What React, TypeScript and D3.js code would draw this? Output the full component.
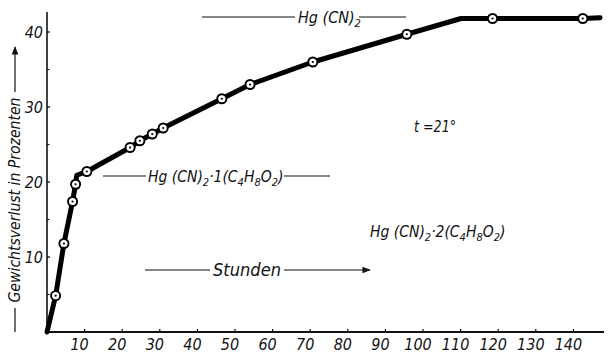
import React from "react";
import * as d3 from "d3";

const hours = [0, 2.3, 4.5, 6.8, 7.6, 7.9, 10.6, 22.1, 24.7, 28.0, 30.9, 46.5, 54.0, 70.7, 95.7, 110.1, 118.5, 142.5, 147.1];
const loss = [0, 4.84, 11.8, 17.4, 19.7, 20.9, 21.4, 24.6, 25.5, 26.4, 27.2, 31.1, 33.0, 36.0, 39.7, 41.8, 41.8, 41.8, 41.9];
const marked = [false, true, true, true, true, false, true, true, true, true, true, true, true, true, true, false, true, true, false];
const xTicks = [10, 20, 30, 40, 50, 60, 70, 80, 90, 100, 110, 120, 130, 140];
const yTicks = [10, 20, 30, 40];
const yMinor = [5, 15, 25, 35];

const W = 608;
const H = 354;
const FONT = "'Liberation Sans Narrow', 'DejaVu Sans Condensed', 'Liberation Sans', sans-serif";

export default function App() {
  const x = d3.scaleLinear().domain([0, 150]).range([47, 47 + 150 * 3.76]);
  const y = d3.scaleLinear().domain([0, 40]).range([332, 32]);
  const pts = hours.map((h, i) => ({ h, v: loss[i], m: marked[i] }));
  const line = d3
    .line<{ h: number; v: number }>()
    .x((d) => x(d.h))
    .y((d) => y(d.v));

  const txt = {
    fontFamily: FONT,
    fontStyle: "italic" as const,
    fill: "#111",
  };

  return (
    <svg
      width={W}
      height={H}
      viewBox={`0 0 ${W} ${H}`}
      style={{ position: "absolute", left: 0, top: 0, background: "#fff" }}
    >
      <defs>
        <marker id="ah" viewBox="0 0 10 10" refX="9" refY="5" markerWidth="7" markerHeight="7" orient="auto">
          <path d="M0,1 L10,5 L0,9 Z" fill="#111" />
        </marker>
      </defs>
      {/* axes */}
      <line x1={x(0)} y1={y(0)} x2={x(0)} y2={12} stroke="#111" strokeWidth={1.6} />
      <line x1={x(0)} y1={y(0)} x2={604} y2={y(0)} stroke="#111" strokeWidth={1.8} />
      {yTicks.map((t) => (
        <g key={"y" + t}>
          <line x1={x(0)} x2={x(0) + 3} y1={y(t)} y2={y(t)} stroke="#111" strokeWidth={1.3} />
          <text x={43} y={y(t) + 6} textAnchor="end" fontSize={16} {...txt}>
            {t}
          </text>
        </g>
      ))}
      {yMinor.map((t) => (
        <line key={"ym" + t} x1={x(0)} x2={x(0) + 2.5} y1={y(t)} y2={y(t)} stroke="#111" strokeWidth={1.1} />
      ))}
      {xTicks.map((t) => (
        <g key={"x" + t}>
          <line x1={x(t)} x2={x(t)} y1={y(0)} y2={y(0) - 3} stroke="#111" strokeWidth={1.2} />
          <text x={x(t) - 5} y={350} textAnchor="middle" fontSize={16} {...txt}>
            {t}
          </text>
        </g>
      ))}
      {/* y title */}
      <g transform="translate(20,200) rotate(-90)">
        <line x1={-132} x2={-108} y1={-5} y2={-5} stroke="#111" strokeWidth={1.2} />
        <text x={0} y={0} textAnchor="middle" fontSize={16} {...txt} textLength={205} lengthAdjust="spacingAndGlyphs">
          Gewichtsverlust in Prozenten
        </text>
        <line x1={108} x2={153} y1={-5} y2={-5} stroke="#111" strokeWidth={1.2} markerEnd="url(#ah)" />
      </g>
      {/* curve */}
      <path d={line(pts) || ""} fill="none" stroke="#000" strokeWidth={5} strokeLinejoin="round" strokeLinecap="round" />
      {pts
        .filter((p) => p.m)
        .map((p, i) => (
          <g key={"m" + i}>
            <circle cx={x(p.h)} cy={y(p.v)} r={5.5} fill="#000" />
            <circle cx={x(p.h)} cy={y(p.v)} r={3.6} fill="#fff" />
            <circle cx={x(p.h)} cy={y(p.v)} r={1.1} fill="#000" />
          </g>
        ))}
      {/* annotations */}
      <line x1={202} x2={295} y1={17} y2={17} stroke="#111" strokeWidth={1.2} />
      <text x={298} y={23} fontSize={16} {...txt}>
        Hg (CN)<tspan dy={4} fontSize={11}>2</tspan>
      </text>
      <line x1={359} x2={406} y1={17} y2={17} stroke="#111" strokeWidth={1.2} />

      <line x1={103} x2={146} y1={176} y2={176} stroke="#111" strokeWidth={1.2} />
      <text x={148} y={182} fontSize={15.5} {...txt}>
        Hg (CN)<tspan dy={4} fontSize={11}>2</tspan>
        <tspan dy={-4}>·1(C</tspan>
        <tspan dy={4} fontSize={11}>4</tspan>
        <tspan dy={-4}>H</tspan>
        <tspan dy={4} fontSize={11}>8</tspan>
        <tspan dy={-4}>O</tspan>
        <tspan dy={4} fontSize={11}>2</tspan>
        <tspan dy={-4}>)</tspan>
      </text>
      <line x1={284} x2={330} y1={176} y2={176} stroke="#111" strokeWidth={1.2} />

      <line x1={145} x2={210} y1={270} y2={270} stroke="#111" strokeWidth={1.2} />
      <text x={213} y={276} fontSize={17} {...txt} textLength={68} lengthAdjust="spacingAndGlyphs">
        Stunden
      </text>
      <line x1={284} x2={370} y1={270} y2={270} stroke="#111" strokeWidth={1.2} markerEnd="url(#ah)" />

      <text x={414} y={132} fontSize={16} {...txt} textLength={42} lengthAdjust="spacingAndGlyphs">
        t =21°
      </text>

      <text x={370} y={237} fontSize={15.5} {...txt}>
        Hg (CN)<tspan dy={4} fontSize={11}>2</tspan>
        <tspan dy={-4}>·2(C</tspan>
        <tspan dy={4} fontSize={11}>4</tspan>
        <tspan dy={-4}>H</tspan>
        <tspan dy={4} fontSize={11}>8</tspan>
        <tspan dy={-4}>O</tspan>
        <tspan dy={4} fontSize={11}>2</tspan>
        <tspan dy={-4}>)</tspan>
      </text>
    </svg>
  );
}
